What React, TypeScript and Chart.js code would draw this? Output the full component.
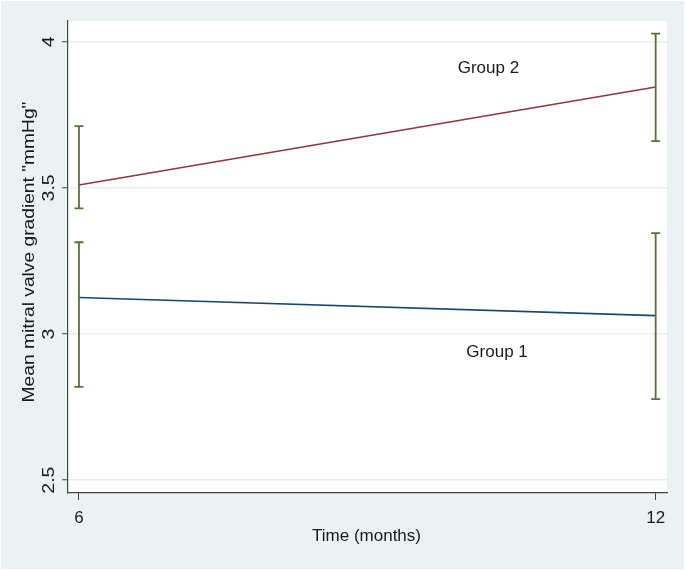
import React, { useEffect, useRef } from "react";
import { Chart, registerables } from "chart.js";

Chart.register(...registerables);

const xValues = [6, 12];
const xTickValues = [6, 12];
const yTickValues = [2.5, 3, 3.5, 4];
const yTickLabels = ["2.5", "3", "3.5", "4"];

const group1Mean = [3.125, 3.063];
const group1Upper = [3.314, 3.345];
const group1Lower = [2.819, 2.777];

const group2Mean = [3.51, 3.845];
const group2Upper = [3.711, 4.028];
const group2Lower = [3.43, 3.66];

const groupLabels = [
  { text: "Group 2", x: 10.26, y: 3.91 },
  { text: "Group 1", x: 10.35, y: 2.938 },
];

const xTitle = "Time (months)";
const yTitle = 'Mean mitral valve gradient "mmHg"';

const BG = "#EAF2F3";
const FONT = '17px "Liberation Sans", Arial, sans-serif';
const TEXT = "#1a1a1a";

const bgPlugin = {
  id: "bg",
  beforeDraw(chart: any) {
    const { ctx, chartArea, width, height } = chart;
    ctx.save();
    ctx.fillStyle = "#ffffff";
    ctx.fillRect(0, 0, width, height);
    ctx.fillStyle = BG;
    ctx.fillRect(1, 1, width - 2, height - 3);
    ctx.fillStyle = "#ffffff";
    ctx.fillRect(chartArea.left, chartArea.top, chartArea.right - chartArea.left, chartArea.bottom - chartArea.top);
    ctx.restore();
  },
};

const errPlugin = {
  id: "errbars",
  afterDatasetsDraw(chart: any) {
    const { ctx, scales } = chart;
    const xs = scales.x;
    const ys = scales.y;
    ctx.save();
    ctx.strokeStyle = "#55752F";
    ctx.lineWidth = 1.8;
    const draw = (lo: number[], hi: number[]) => {
      xValues.forEach((xv, i) => {
        const px = xs.getPixelForValue(xv);
        const y1 = ys.getPixelForValue(lo[i]);
        const y2 = ys.getPixelForValue(hi[i]);
        ctx.beginPath();
        ctx.moveTo(px, y1);
        ctx.lineTo(px, y2);
        ctx.moveTo(px - 4.5, y1);
        ctx.lineTo(px + 4.5, y1);
        ctx.moveTo(px - 4.5, y2);
        ctx.lineTo(px + 4.5, y2);
        ctx.stroke();
      });
    };
    draw(group1Lower, group1Upper);
    draw(group2Lower, group2Upper);
    ctx.restore();
  },
};

const textPlugin = {
  id: "texts",
  afterDraw(chart: any) {
    const { ctx, scales, chartArea } = chart;
    const xs = scales.x;
    const ys = scales.y;
    ctx.save();
    ctx.fillStyle = TEXT;
    ctx.font = FONT;
    ctx.textAlign = "center";
    ctx.textBaseline = "middle";
    // x tick labels
    xTickValues.forEach((v) => {
      ctx.fillText(String(v), xs.getPixelForValue(v), 518);
    });
    // y tick labels (rotated, stretched)
    yTickValues.forEach((v, i) => {
      ctx.save();
      ctx.translate(49, ys.getPixelForValue(v));
      ctx.rotate(-Math.PI / 2);
      ctx.scale(1.15, 1);
      ctx.fillText(yTickLabels[i], 0, 0);
      ctx.restore();
    });
    // x title
    ctx.fillText(xTitle, (chartArea.left + chartArea.right) / 2 - 1, 536);
    // y title
    ctx.save();
    ctx.translate(29, 252);
    ctx.rotate(-Math.PI / 2);
    ctx.scale(1.13, 1);
    ctx.fillText(yTitle, 0, 0);
    ctx.restore();
    // group labels
    groupLabels.forEach((g) => {
      ctx.fillText(g.text, xs.getPixelForValue(g.x), ys.getPixelForValue(g.y));
    });
    ctx.restore();
  },
};

export default function App() {
  const ref = useRef<HTMLCanvasElement | null>(null);
  useEffect(() => {
    if (!ref.current) return;
    const chart = new Chart(ref.current, {
      type: "line",
      data: {
        datasets: [
          {
            label: "Group 1",
            data: xValues.map((x, i) => ({ x, y: group1Mean[i] })),
            borderColor: "#1A476F",
            borderWidth: 1.6,
            pointRadius: 0,
            fill: false,
          },
          {
            label: "Group 2",
            data: xValues.map((x, i) => ({ x, y: group2Mean[i] })),
            borderColor: "#90353B",
            borderWidth: 1.6,
            pointRadius: 0,
            fill: false,
          },
        ],
      },
      options: {
        animation: false,
        responsive: false,
        layout: { padding: { left: 0, top: 21, right: 18, bottom: 0 } },
        plugins: { legend: { display: false }, tooltip: { enabled: false } },
        scales: {
          x: {
            type: "linear",
            min: 5.886,
            max: 12.118,
            afterBuildTicks: (s: any) => {
              s.ticks = xTickValues.map((v) => ({ value: v }));
            },
            afterFit: (s: any) => {
              s.height = 78;
            },
            ticks: { display: false },
            grid: {
              drawOnChartArea: false,
              drawTicks: true,
              tickLength: 7,
              tickColor: "#444",
              tickWidth: 1,
              color: "rgba(0,0,0,0)",
            },
            border: { display: true, color: "#444", width: 1.2 },
          },
          y: {
            type: "linear",
            min: 2.456,
            max: 4.071,
            afterBuildTicks: (s: any) => {
              s.ticks = yTickValues.map((v) => ({ value: v }));
            },
            afterFit: (s: any) => {
              s.width = 68;
            },
            ticks: { display: false },
            grid: {
              drawOnChartArea: true,
              drawTicks: true,
              tickLength: 6,
              tickColor: "#444",
              tickWidth: 1,
              color: "#E6EEF1",
              lineWidth: 1.5,
            },
            border: { display: true, color: "#444", width: 1.2 },
          },
        },
      },
      plugins: [bgPlugin, errPlugin, textPlugin],
    } as any);
    return () => chart.destroy();
  }, []);
  return (
    <div style={{ position: "fixed", left: 0, top: 0, width: 685, height: 571 }}>
      <canvas ref={ref} width={685} height={571} style={{ width: 685, height: 571, display: "block" }} />
    </div>
  );
}
